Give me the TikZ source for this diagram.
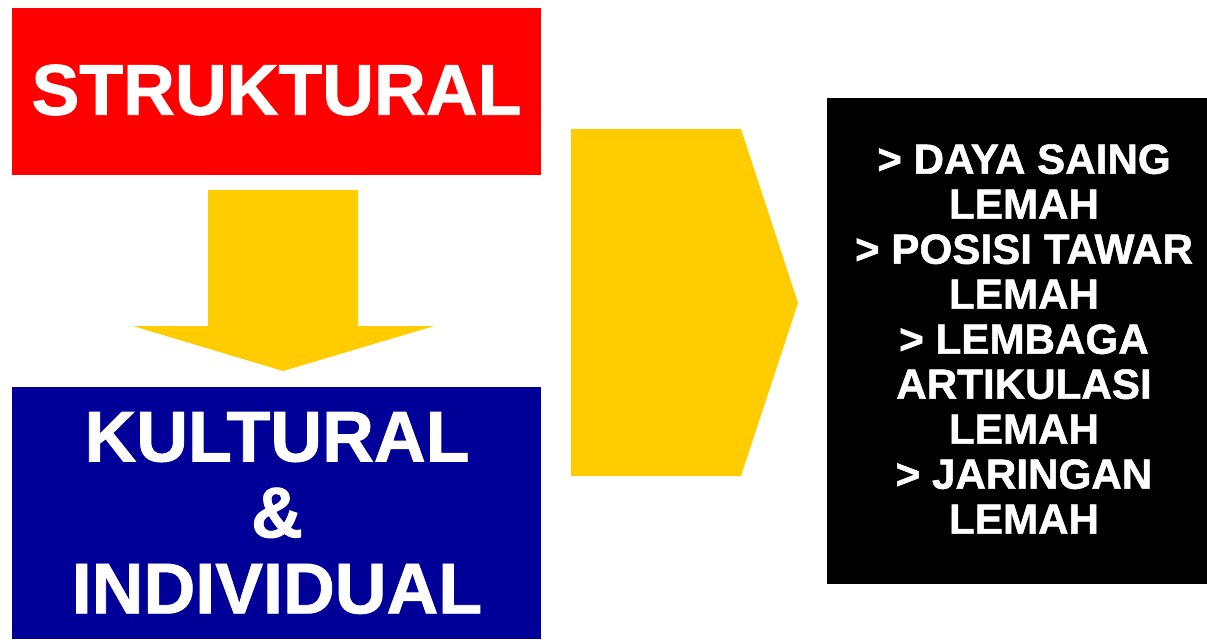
\documentclass[tikz,border=0pt]{standalone}
\usepackage{fontspec}
\setmainfont{Liberation Sans}[BoldFont={Liberation Sans Bold}, BoldFeatures={FakeBold=1.2}]
\usepackage{xcolor}
\definecolor{boxred}{RGB}{255,0,0}
\definecolor{boxblue}{RGB}{0,0,153}
\definecolor{arrowyellow}{RGB}{255,204,0}

\begin{document}
\begin{tikzpicture}[x=0.025cm,y=-0.025cm]
\useasboundingbox (0,0) rectangle (1207,639);

% Red box (top left)
\fill[boxred] (12,8) rectangle (541,175);
\node[white, font=\bfseries\fontsize{51}{57}\selectfont] (struktural) at (276.5,90) {STRUKTURAL};

% down arrow between the two boxes
\fill[arrowyellow] (208,190) -- (358,190) -- (358,326) -- (434,326)
  -- (283,371) -- (133,326) -- (208,326) -- cycle;

% Blue box (bottom left)
\fill[boxblue] (12,387) rectangle (541,639);
\node[white, align=center, font=\bfseries\fontsize{51}{54}\selectfont] (kultural) at (277,513)
  {KULTURAL\\ \&\\ INDIVIDUAL};

% big arrow to the right
\fill[arrowyellow] (571,129) -- (741,129) -- (798,303) -- (741,476) -- (571,476) -- cycle;

% Black box (right)
\fill[black] (827,98) rectangle (1207,584);
\node[white, align=center, font=\bfseries\fontsize{30}{32}\selectfont] (lemah) at (1024,339)
  {> DAYA SAING\\ LEMAH\\ > POSISI TAWAR\\ LEMAH\\ > LEMBAGA\\ ARTIKULASI\\ LEMAH\\ > JARINGAN\\ LEMAH};

\end{tikzpicture}
\end{document}
